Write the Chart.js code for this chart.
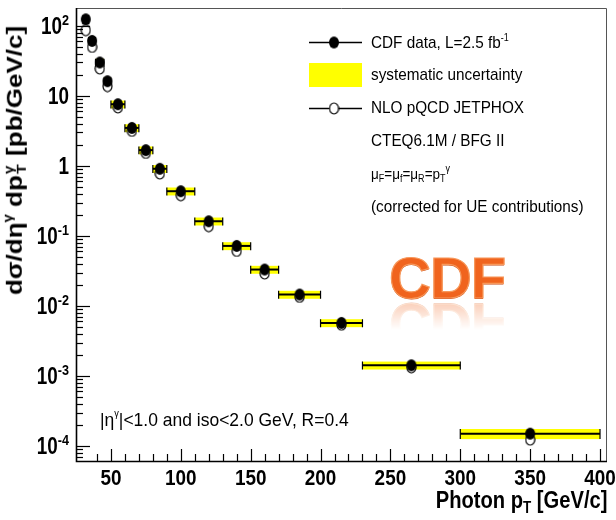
<!DOCTYPE html>
<html><head><meta charset="utf-8">
<script src="https://cdn.jsdelivr.net/npm/chart.js@4/dist/chart.umd.min.js"></script>
<style>
html,body{margin:0;padding:0;background:#fff;}
#wrap{position:relative;width:616px;height:520px;overflow:hidden;font-family:"Liberation Sans",Arial,Helvetica,sans-serif;}
#c{position:absolute;left:0;top:0;}
.t{position:absolute;white-space:nowrap;color:#000;line-height:1;}
.leg{font-size:17px;transform:scaleX(0.9);transform-origin:0 50%;}
.leg sup{font-size:10px;vertical-align:7px;}
.small{font-size:15px;}
.small sub{font-size:10px;vertical-align:-3px;}
.small sup{font-size:10px;vertical-align:7px;}
#xt{font-size:24px;font-weight:bold;transform:scaleX(0.84);transform-origin:100% 50%;right:9px;top:488px;}
#xt sub{font-size:16px;vertical-align:-5px;}
#yt{font-size:26px;font-weight:bold;width:320px;text-align:center;left:-147px;top:146px;transform:rotate(-90deg) scaleY(0.85);transform-origin:50% 50%;}
#yt sup{font-size:15px;vertical-align:12px;}
.stk{display:inline-block;position:relative;width:12px;height:10px;}
.stk .a{position:absolute;left:1px;top:-14px;font-size:15px;}
.stk .b{position:absolute;left:1px;top:2px;font-size:16px;}
#ann{font-size:19px;left:100px;top:409px;transform:scaleX(0.92);transform-origin:0 50%;}
#ann sup{font-size:10px;vertical-align:9px;}
#logo{left:389px;top:249px;font-size:58px;font-weight:bold;color:#f0641e;letter-spacing:-1px;
 -webkit-text-stroke:1.2px #f7995c;
 text-shadow:0 1px 0 #c94a14;
 -webkit-box-reflect:below -12px linear-gradient(transparent 40%, rgba(255,255,255,0.4));}
</style></head>
<body>
<div id="wrap">
<canvas id="c" width="616" height="520"></canvas>
<div class="t" id="yt">dσ/dη<sup>γ</sup> dp<span class="stk"><span class="a">γ</span><span class="b">T</span></span> [pb/GeV/c]</div>
<div class="t" id="xt">Photon p<sub>T</sub> [GeV/c]</div>
<div class="t leg" style="left:371px;top:33px">CDF data, L=2.5 fb<sup>-1</sup></div>
<div class="t leg" style="left:371px;top:66px">systematic uncertainty</div>
<div class="t leg" style="left:371px;top:99px">NLO pQCD JETPHOX</div>
<div class="t leg" style="left:371px;top:132px">CTEQ6.1M / BFG II</div>
<div class="t leg small" style="left:371px;top:164px">μ<sub>F</sub>=μ<sub>f</sub>=μ<sub>R</sub>=p<sub>T</sub><sup>γ</sup></div>
<div class="t leg" style="left:371px;top:198px">(corrected for UE contributions)</div>
<div class="t" id="ann">|η<sup>γ</sup>|&lt;1.0 and iso&lt;2.0 GeV, R=0.4</div>
<div class="t" id="logo">CDF</div>
</div>
<script>
// ---- data ----
const binLow    = [30, 34, 39, 45, 50, 60, 70, 80, 90, 110, 130, 150, 170, 200, 230, 300];
const binHigh   = [34, 39, 45, 50, 60, 70, 80, 90, 110, 130, 150, 170, 200, 230, 300, 400];
const binCenter = [32, 36.5, 42, 47.5, 55, 65, 75, 85, 100, 120, 140, 160, 185, 215, 265, 350];
const cdfData   = [124, 61, 30, 16.2, 7.6, 3.49, 1.68, 0.91, 0.435, 0.162, 0.072, 0.0331, 0.01455, 0.00572, 0.00142, 0.000150];
const jetphox   = [86.8, 50, 24.6, 13.8, 6.83, 3.16, 1.53, 0.778, 0.381, 0.138, 0.061, 0.029, 0.01345, 0.00539, 0.00133, 0.000123];
const sysRel    = [0.14, 0.14, 0.13, 0.13, 0.13, 0.13, 0.13, 0.13, 0.13, 0.13, 0.13, 0.13, 0.13, 0.13, 0.13, 0.165];
const xTickLabels = [50, 100, 150, 200, 250, 300, 350, 400];
const yTickValues = [1e-4, 1e-3, 1e-2, 1e-1, 1, 10, 100];
const yTickBase   = ['10', '10', '10', '10', '1', '10', '10'];
const yTickExp    = ['-4', '-3', '-2', '-1', '', '', '2'];

const FONT = '"Liberation Sans", Arial, Helvetica, sans-serif';

function ellipseMarker(w, h, filled){
  const c = document.createElement('canvas');
  c.width = w + 2; c.height = h + 2;
  const g = c.getContext('2d');
  g.beginPath();
  g.ellipse((w + 2) / 2, (h + 2) / 2, w / 2, h / 2, 0, 0, Math.PI * 2);
  if (filled){ g.fillStyle = '#000'; g.fill(); }
  else { g.fillStyle = '#fff'; g.fill(); g.lineWidth = 1.2; g.strokeStyle = '#000'; g.stroke(); }
  return c;
}
const filledMk = ellipseMarker(10, 12, true);
const openMk = ellipseMarker(9, 11, false);

function sText(ctx, txt, x, y, sx){
  ctx.save(); ctx.translate(x, y); ctx.scale(sx, 1); ctx.fillText(txt, 0, 0); ctx.restore();
}

const rootPlugin = {
  id: 'rootStyle',
  beforeDatasetsDraw(chart){
    const ctx = chart.ctx, xs = chart.scales.x, ys = chart.scales.y;
    ctx.save();
    for (let i = 0; i < binCenter.length; i++){
      const x0 = xs.getPixelForValue(binLow[i]), x1 = xs.getPixelForValue(binHigh[i]);
      const yt = ys.getPixelForValue(cdfData[i] * (1 + sysRel[i]));
      const yb = ys.getPixelForValue(cdfData[i] * (1 - sysRel[i]));
      ctx.fillStyle = '#ffff00';
      ctx.fillRect(x0, yt, x1 - x0, yb - yt);
    }
    ctx.strokeStyle = '#000';
    for (let i = 0; i < binCenter.length; i++){
      const x0 = xs.getPixelForValue(binLow[i]), x1 = xs.getPixelForValue(binHigh[i]);
      const y = ys.getPixelForValue(cdfData[i]);
      const yt = ys.getPixelForValue(cdfData[i] * (1 + sysRel[i]));
      const yb = ys.getPixelForValue(cdfData[i] * (1 - sysRel[i]));
      ctx.lineWidth = 2;
      ctx.beginPath(); ctx.moveTo(x0, y); ctx.lineTo(x1, y); ctx.stroke();
      ctx.lineWidth = 1.2;
      ctx.beginPath();
      ctx.moveTo(x0, yt); ctx.lineTo(x0, yb);
      ctx.moveTo(x1, yt); ctx.lineTo(x1, yb);
      ctx.stroke();
    }
    ctx.restore();
  },
  afterDraw(chart){
    const ctx = chart.ctx, xs = chart.scales.x, ys = chart.scales.y, a = chart.chartArea;
    ctx.save();
    ctx.strokeStyle = '#000'; ctx.fillStyle = '#000';
    // frame
    ctx.lineWidth = 1;
    ctx.strokeStyle = '#555';
    ctx.beginPath(); ctx.moveTo(a.left, a.top + 0.5); ctx.lineTo(a.right - 0.5, a.top + 0.5); ctx.lineTo(a.right - 0.5, a.bottom); ctx.stroke();
    ctx.strokeStyle = '#000'; ctx.lineWidth = 1.6;
    ctx.beginPath(); ctx.moveTo(a.left + 0.5, a.top); ctx.lineTo(a.left + 0.5, a.bottom + 0.5); ctx.lineTo(a.right, a.bottom + 0.5); ctx.stroke();
    // y ticks (log)
    ctx.lineWidth = 1.2;
    for (let e = -5; e <= 2; e++){
      for (let m = 1; m <= 9; m++){
        const v = m * Math.pow(10, e);
        if (v < ys.min || v > ys.max) continue;
        const y = Math.round(ys.getPixelForValue(v)) + 0.5;
        const len = m === 1 ? 14 : 7;
        ctx.beginPath(); ctx.moveTo(a.left, y); ctx.lineTo(a.left + len, y); ctx.stroke();
      }
    }
    // x ticks
    for (let v = 40; v <= 400; v += 10){
      const x = Math.round(xs.getPixelForValue(v)) + 0.5;
      const len = v % 50 === 0 ? 12 : 7;
      ctx.beginPath(); ctx.moveTo(x, a.bottom); ctx.lineTo(x, a.bottom - len); ctx.stroke();
    }
    // x labels
    ctx.font = 'bold 22px ' + FONT;
    ctx.textBaseline = 'alphabetic';
    ctx.textAlign = 'center';
    xTickLabels.forEach(v => {
      sText(ctx, String(v), xs.getPixelForValue(v), 485, 0.86);
    });
    // y labels
    ctx.textAlign = 'left';
    const right = 69;
    yTickValues.forEach((v, i) => {
      const y = ys.getPixelForValue(v);
      ctx.font = 'bold 14px ' + FONT;
      const ew = yTickExp[i] ? ctx.measureText(yTickExp[i]).width * 0.9 : 0;
      ctx.font = 'bold 23px ' + FONT;
      const bw = ctx.measureText(yTickBase[i]).width * 0.82;
      sText(ctx, yTickBase[i], right - ew - bw, y + 8.5, 0.82);
      if (yTickExp[i]){
        ctx.font = 'bold 14px ' + FONT;
        sText(ctx, yTickExp[i], right - ew, y - 0.5, 0.9);
      }
    });
    // legend symbols
    ctx.strokeStyle = '#000'; ctx.lineWidth = 1.5;
    ctx.beginPath(); ctx.moveTo(309, 42.5); ctx.lineTo(362, 42.5); ctx.stroke();
    ctx.drawImage(filledMk, 334 - filledMk.width / 2, 42.5 - filledMk.height / 2);
    ctx.fillStyle = '#ffff00'; ctx.fillRect(309, 63, 53, 24);
    ctx.beginPath(); ctx.moveTo(309, 108.5); ctx.lineTo(362, 108.5); ctx.stroke();
    ctx.drawImage(openMk, 334 - openMk.width / 2, 108.5 - openMk.height / 2);
    ctx.restore();
  }
};

new Chart(document.getElementById('c'), {
  type: 'scatter',
  data: {
    datasets: [
      { label: 'CDF data, L=2.5 fb-1', data: binCenter.map((x, i) => ({x, y: cdfData[i]})),
        pointStyle: filledMk, order: 0 },
      { label: 'NLO pQCD JETPHOX', data: binCenter.map((x, i) => ({x, y: jetphox[i]})),
        pointStyle: openMk, order: 1 }
    ]
  },
  options: {
    responsive: false, animation: false, devicePixelRatio: 1,
    layout: { padding: { left: 0, right: 9, top: 8, bottom: 0 } },
    plugins: { legend: { display: false }, tooltip: { enabled: false } },
    scales: {
      x: { type: 'linear', min: 25, max: 405, grid: { display: false }, border: { display: false },
           ticks: { display: false }, afterFit(s){ s.height = 59; } },
      y: { type: 'logarithmic', min: 6.1e-5, max: 180, grid: { display: false }, border: { display: false },
           ticks: { display: false }, afterFit(s){ s.width = 76; } }
    }
  },
  plugins: [rootPlugin]
});
</script>
</body></html>
